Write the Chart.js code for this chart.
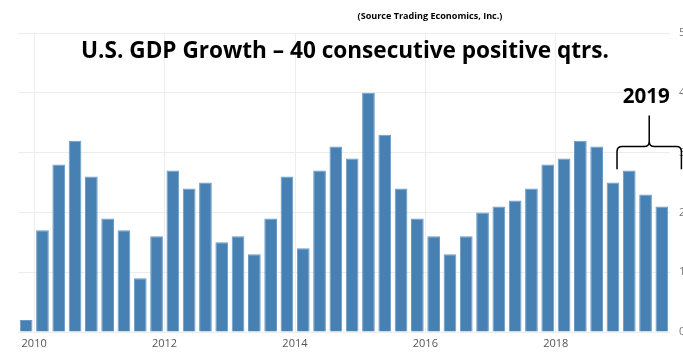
<!DOCTYPE html>
<html>
<head>
<meta charset="utf-8">
<script src="https://cdn.jsdelivr.net/npm/chart.js@4.4.1/dist/chart.umd.min.js"></script>
<style>
  html, body { margin: 0; padding: 0; background: #fff; }
  #wrap { width: 683px; height: 352px; }
</style>
</head>
<body>
<div id="wrap"><canvas id="gdpChart"></canvas></div>
<script>
// Chart data
const years = ['2010', '2011', '2012', '2013', '2014', '2015', '2016', '2017', '2018', '2019'];
const quarters = ['Q1', 'Q2', 'Q3', 'Q4'];
const tickYears = ['2010', '2012', '2014', '2016', '2018'];
const gdpGrowth = [
    0.2, 1.7, 2.8, 3.2,
    2.6, 1.9, 1.7, 0.9,
    1.6, 2.7, 2.4, 2.5,
    1.5, 1.6, 1.3, 1.9,
    2.6, 1.4, 2.7, 3.1,
    2.9, 4.0, 3.3, 2.4,
    1.9, 1.6, 1.3, 1.6,
    2.0, 2.1, 2.2, 2.4,
    2.8, 2.9, 3.2, 3.1,
    2.5, 2.7, 2.3, 2.1
];
const yTicks = [0, 1, 2, 3, 4, 5];

const titleText = 'U.S. GDP Growth \u2013 40 consecutive positive qtrs.';
const sourceText = '(Source Trading Economics, Inc.)';
const braceText = '2019';

const labels = [];
years.forEach(y => quarters.forEach(q => labels.push(y + ' ' + q)));

// font size that makes text hit a given width
function fitFont(ctx, text, width, family) {
    ctx.font = 'bold 20px ' + family;
    const size = 20 * width / ctx.measureText(text).width;
    return 'bold ' + size.toFixed(2) + 'px ' + family;
}

// Title, source and the 2019 brace
const annotations = {
    id: 'annotations',
    afterDraw(chart) {
        const ctx = chart.ctx;
        const x = chart.scales.x;
        const y = chart.scales.y;
        const fam = '"Open Sans", "Noto Sans", sans-serif';
        ctx.save();
        ctx.fillStyle = '#000';
        ctx.textAlign = 'center';
        ctx.textBaseline = 'alphabetic';

        ctx.font = fitFont(ctx, sourceText, 145, fam);
        ctx.fillText(sourceText, 430, 19);

        ctx.font = fitFont(ctx, titleText, 528, fam);
        ctx.fillText(titleText, 345, 58);

        // brace over the 2019 bars
        const w = x.getPixelForValue(1) - x.getPixelForValue(0);
        const left = x.getPixelForValue(36) + w * 0.25;
        const right = x.getPixelForValue(39) + w * 1.2;
        const mid = (left + right) / 2;
        const yBar = y.getPixelForValue(3.1);
        const yArm = y.getPixelForValue(2.72);
        const yTop = y.getPixelForValue(3.62);
        const r = 5;

        ctx.font = fitFont(ctx, braceText, 47, fam);
        ctx.fillText(braceText, mid - 3, y.getPixelForValue(3.83));

        ctx.strokeStyle = '#000';
        ctx.lineWidth = 1.5;
        ctx.beginPath();
        ctx.moveTo(left, yArm);
        ctx.lineTo(left, yBar + r);
        ctx.quadraticCurveTo(left, yBar, left + r, yBar);
        ctx.lineTo(mid - r, yBar);
        ctx.quadraticCurveTo(mid, yBar, mid, yBar - r);
        ctx.lineTo(mid, yTop);
        ctx.moveTo(mid, yBar - r);
        ctx.quadraticCurveTo(mid, yBar, mid + r, yBar);
        ctx.lineTo(right - r, yBar);
        ctx.quadraticCurveTo(right, yBar, right, yBar + r);
        ctx.lineTo(right, yArm);
        ctx.stroke();
        ctx.restore();
    }
};

const ctx = document.getElementById('gdpChart').getContext('2d');
const chart = new Chart(ctx, {
    type: 'bar',
    data: {
        labels: labels,
        datasets: [{
            label: 'GDP Growth',
            data: gdpGrowth,
            backgroundColor: '#4781b4',
            borderColor: '#6b9bc6',
            borderWidth: 1,
            barPercentage: 0.78,
            categoryPercentage: 1
        }]
    },
    options: {
        responsive: true,
        maintainAspectRatio: false,
        animation: false,
        layout: { padding: { left: 18, top: 33, right: 0, bottom: 0 } },
        plugins: {
            legend: { display: false },
            tooltip: { enabled: false }
        },
        scales: {
            x: {
                offset: true,
                grid: {
                    offset: true,
                    drawTicks: false,
                    color: c => (c.index % 8 === 1 ? '#ededed' : 'rgba(0,0,0,0)')
                },
                border: { display: false },
                ticks: {
                    autoSkip: false,
                    maxRotation: 0,
                    padding: 5,
                    labelOffset: 8,
                    color: '#555',
                    font: { family: '"Open Sans", sans-serif', size: 11 },
                    callback: (v, i) => (i % 8 === 0 ? tickYears[i / 8] : '')
                },
                afterFit: s => { s.height = 20; }
            },
            y: {
                position: 'right',
                min: yTicks[0],
                max: yTicks[yTicks.length - 1],
                grid: { drawTicks: false, color: '#ececec' },
                border: { display: false },
                afterBuildTicks: s => { s.ticks = yTicks.map(v => ({ value: v })); },
                ticks: {
                    padding: 9,
                    color: '#777',
                    font: { family: '"Open Sans", sans-serif', size: 11 }
                },
                afterFit: s => { s.width = 13; }
            }
        }
    },
    plugins: [annotations]
});
</script>
</body>
</html>
